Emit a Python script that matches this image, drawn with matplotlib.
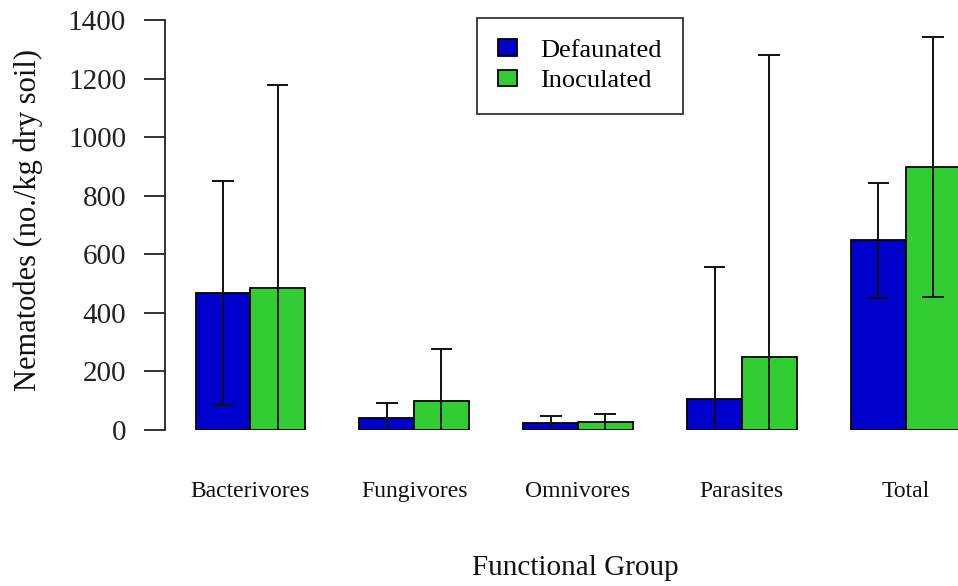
import matplotlib.pyplot as plt
import numpy as np

plt.rcParams['font.family'] = ['Liberation Serif', 'DejaVu Serif']

groups = ["Bacterivores", "Fungivores", "Omnivores", "Parasites", "Total"]
treatments = ["Defaunated", "Inoculated"]
defaunated = [468, 40, 23, 106, 648]
defaunated_err = [382, 53, 25, 451, 196]
inoculated = [484, 100, 26, 248, 899]
inoculated_err = [694, 177, 28, 1034, 444]
yticks = [0, 200, 400, 600, 800, 1000, 1200, 1400]

blue = "#0000CD"
green = "#32CD32"

W, H = 958, 586
fig = plt.figure(figsize=(W / 100, H / 100), dpi=100)
# plot region in pixels (R-style barplot, right side cropped)
left, right, top, bottom = 165, 991, 20, 430
ax = fig.add_axes([left / W, 1 - bottom / H, (right - left) / W, (bottom - top) / H])

# R barplot beside=TRUE layout: bar width 1, one bar gap between groups
starts = 1 + 3 * np.arange(len(groups))
x_def = starts + 0.5
x_ino = starts + 1.5

ax.bar(x_def, defaunated, width=1, color=blue, edgecolor="black", linewidth=1.3, label=treatments[0], zorder=2)
ax.bar(x_ino, inoculated, width=1, color=green, edgecolor="black", linewidth=1.3, label=treatments[1], zorder=2)


def error_bars(x, mean, err):
    mean = np.asarray(mean, float)
    err = np.asarray(err, float)
    lo, hi = mean - err, mean + err
    ax.vlines(x, lo, hi, color="#111111", linewidth=1.4, zorder=3)
    ax.hlines(hi, x - 0.2, x + 0.2, color="#111111", linewidth=1.4, zorder=3)
    keep = lo > 0  # lower arm runs off the plot otherwise
    ax.hlines(lo[keep], x[keep] - 0.2, x[keep] + 0.2, color="#111111", linewidth=1.4, zorder=3)


error_bars(x_def, defaunated, defaunated_err)
error_bars(x_ino, inoculated, inoculated_err)

ax.set_xlim(0.44, 15.56)
ax.set_ylim(0, 1400)

for s in ["top", "right", "bottom"]:
    ax.spines[s].set_visible(False)
ax.spines["left"].set_bounds(0, 1400)
ax.spines["left"].set_linewidth(1.3)
ax.spines["left"].set_color("#222222")

ax.set_yticks(yticks)
ax.set_yticklabels([str(v) for v in yticks], fontsize=21)
ax.tick_params(axis="y", length=15, width=1.3, pad=13, colors="#222222", labelcolor="#222222")
ax.set_xticks([])

centers = starts + 1
for xc, g in zip(centers, groups):
    ax.text(xc, -0.151, g, transform=ax.get_xaxis_transform(), ha="center", va="center",
            fontsize=17, color="#111111")

fig.text(575 / W, 1 - 568 / H, "Functional Group", ha="center", va="center", fontsize=21, color="#111111")
fig.text(28 / W, 1 - 220 / H, "Nematodes (no./kg dry soil)", ha="center", va="center",
         rotation=90, fontsize=22, color="#111111")

leg = ax.legend(loc="upper left", bbox_to_anchor=(477 / W, 1 - 18 / H), bbox_transform=fig.transFigure,
                borderaxespad=0, fontsize=19, frameon=True, fancybox=False, edgecolor="black",
                handlelength=0.7, handleheight=0.6, handletextpad=0.9, borderpad=0.8,
                labelspacing=0.3)
leg.get_frame().set_linewidth(1.3)

fig.savefig("out.png", dpi=100)
